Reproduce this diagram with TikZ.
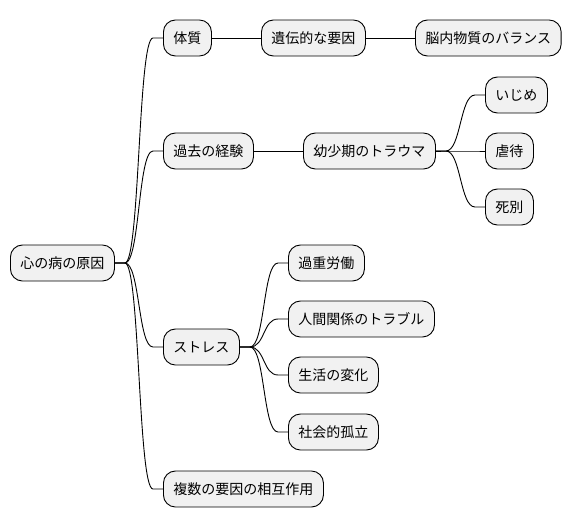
\documentclass[tikz,border=0pt]{standalone}
\usepackage{fontspec}
\setmainfont{Noto Sans CJK JP}
\usepackage{tikz}
\usetikzlibrary{calc}

\definecolor{boxfill}{HTML}{F1F1F1}

\tikzset{
    idea/.style={draw, line width=0.9pt, fill=boxfill, rounded corners=12pt,
        minimum height=36pt, inner xsep=10pt, anchor=west,
        font=\fontsize{14pt}{16pt}\selectfont},
    branch/.style={line width=0.9pt}
}

% curved branch between two nodes
\newcommand{\branchto}[2]{%
    \draw[branch] (#1.east) -- ++(10,0) .. controls +(15,0) and +(-15,0) .. ([xshift=-10pt]#2.west) -- (#2.west);}

\begin{document}
\begin{tikzpicture}[x=1pt,y=-1pt]
    \useasboundingbox (0,0) rectangle (572,527);

    % Root
    \node[idea] (root) at (10,263) {心の病の原因};

    % First level
    \node[idea] (taishitsu) at (163,38) {体質};
    \node[idea] (kako) at (163,151) {過去の経験};
    \node[idea] (stress) at (163,347) {ストレス};
    \node[idea] (fukusu) at (163,489) {複数の要因の相互作用};

    % Second level
    \node[idea] (iden) at (261,38) {遺伝的な要因};
    \node[idea] (nounai) at (415,38) {脳内物質のバランス};
    \node[idea] (trauma) at (303,151) {幼少期のトラウマ};
    \node[idea] (ijime) at (485,95) {いじめ};
    \node[idea] (gyakutai) at (485,151) {虐待};
    \node[idea] (shibetsu) at (485,207) {死別};
    \node[idea] (kajuu) at (288,263) {過重労働};
    \node[idea] (ningen) at (288,319) {人間関係のトラブル};
    \node[idea] (seikatsu) at (288,375) {生活の変化};
    \node[idea] (koritsu) at (288,432) {社会的孤立};

    % Branches
    \branchto{root}{taishitsu}
    \branchto{root}{kako}
    \branchto{root}{stress}
    \branchto{root}{fukusu}
    \draw[branch] (taishitsu) -- (iden);
    \draw[branch] (iden) -- (nounai);
    \draw[branch] (kako) -- (trauma);
    \branchto{trauma}{ijime}
    \branchto{trauma}{gyakutai}
    \branchto{trauma}{shibetsu}
    \branchto{stress}{kajuu}
    \branchto{stress}{ningen}
    \branchto{stress}{seikatsu}
    \branchto{stress}{koritsu}
\end{tikzpicture}
\end{document}
